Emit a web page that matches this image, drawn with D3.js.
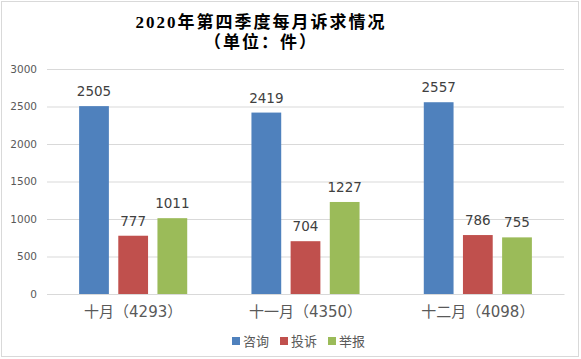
<!DOCTYPE html>
<html><head><meta charset="utf-8">
<script src="https://cdn.jsdelivr.net/npm/d3@7/dist/d3.min.js"></script>
<style>body{margin:0;background:#fff}svg{display:block}</style>
</head><body><div id="chart"></div>
<script>
const categories = ["十月（4293）", "十一月（4350）", "十二月（4098）"];
const seriesNames = ["咨询", "投诉", "举报"];
const consult = [2505, 2419, 2557];
const complaint = [777, 704, 786];
const report = [1011, 1227, 755];
const yTicks = [0, 500, 1000, 1500, 2000, 2500, 3000];
const colors = ["#4F81BD", "#C0504D", "#9BBB59"];
const series = [consult, complaint, report];

const W = 581, H = 359;
const svg = d3.select("#chart").append("svg").attr("width", W).attr("height", H);
svg.append("rect").attr("x", 1.5).attr("y", 1.5).attr("width", W - 4).attr("height", H - 4)
  .attr("fill", "#fff").attr("stroke", "#d9d9d9").attr("stroke-width", 1);

const plot = {left: 47, right: 564, top: 69, bottom: 294};
const x0 = d3.scaleBand().domain(categories).range([plot.left, plot.right]).paddingInner(0).paddingOuter(0);
const x1 = d3.scaleBand().domain(seriesNames).range([0, x0.bandwidth()]).paddingInner(0.24).paddingOuter(0.82);
const y = d3.scaleLinear().domain([0, 3000]).range([plot.bottom, plot.top]);

// grid
const yAxis = d3.axisLeft(y).tickValues(yTicks).tickFormat(d3.format("d")).tickSize(-(plot.right - plot.left)).tickPadding(10);
const ga = svg.append("g").attr("transform", `translate(${plot.left},0)`).call(yAxis);
ga.select(".domain").remove();
ga.selectAll(".tick line").attr("stroke", "#d9d9d9").attr("stroke-width", 1);
ga.selectAll(".tick text").attr("fill", "#595959").style("font-family", "Verdana, 'DejaVu Sans', sans-serif").style("font-size", "10.5px");

// bars
const groups = svg.append("g").selectAll("g").data(categories).join("g")
  .attr("transform", d => `translate(${x0(d)},0)`);
seriesNames.forEach((s, si) => {
  groups.append("rect")
    .attr("x", x1(s)).attr("width", x1.bandwidth())
    .attr("y", (d, i) => y(series[si][i])).attr("height", (d, i) => y(0) - y(series[si][i]))
    .attr("fill", colors[si]);
  groups.append("text")
    .attr("x", x1(s) + x1.bandwidth() / 2).attr("y", (d, i) => y(series[si][i]) - 10)
    .attr("text-anchor", "middle").attr("fill", "#404040")
    .style("font-family", "Verdana, 'DejaVu Sans', sans-serif").style("font-size", "13.5px")
    .text((d, i) => series[si][i]);
});

// x labels
const xAxis = d3.axisBottom(x0).tickSize(0).tickPadding(12);
const gx = svg.append("g").attr("transform", `translate(0,${plot.bottom})`).call(xAxis);
gx.select(".domain").attr("stroke", "#d9d9d9");
gx.selectAll(".tick text").attr("fill", "#595959").style("font-family", "'DejaVu Sans', 'Noto Sans CJK SC', sans-serif").style("font-size", "15px");

// title
const tf = "'Liberation Serif', 'Noto Sans CJK SC', serif";
svg.append("text").attr("x", 261).attr("y", 28).attr("text-anchor", "middle")
  .style("font-family", tf).style("font-weight", "bold").style("font-size", "17px").style("letter-spacing", "2px")
  .attr("fill", "#000").text("2020年第四季度每月诉求情况");
svg.append("text").attr("x", 261).attr("y", 48).attr("text-anchor", "middle")
  .style("font-family", tf).style("font-weight", "bold").style("font-size", "17px").style("letter-spacing", "2px")
  .attr("fill", "#000").text("（单位：件）");

// legend
const legX = [232, 280, 328];
const lg = svg.append("g");
seriesNames.forEach((s, i) => {
  lg.append("rect").attr("x", legX[i]).attr("y", 337).attr("width", 8).attr("height", 8).attr("fill", colors[i]);
  lg.append("text").attr("x", legX[i] + 11).attr("y", 346).attr("fill", "#595959")
    .style("font-family", "'Noto Sans CJK SC', sans-serif").style("font-size", "13px").text(s);
});
</script></body></html>
